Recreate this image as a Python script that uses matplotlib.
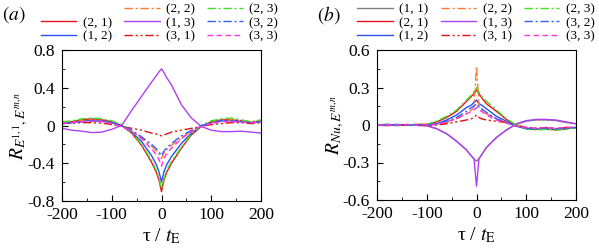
import matplotlib
matplotlib.use("Agg")
import matplotlib.pyplot as plt
from matplotlib.lines import Line2D
from matplotlib.ticker import MultipleLocator

plt.rcParams['font.family'] = ['Liberation Serif', 'DejaVu Serif']
plt.rcParams['mathtext.fontset'] = 'stix'

tau = [-200, -180, -160, -140, -120, -100, -80, -60, -40, -20, -10, -5, 0,
       5, 10, 20, 40, 60, 80, 100, 120, 140, 160, 180, 200]

labels = ['(1, 1)', '(2, 1)', '(1, 2)', '(2, 2)', '(1, 3)', '(3, 1)', '(2, 3)', '(3, 2)', '(3, 3)']

# Panel (a): R_{E11, Emn}
a_21 = [0.03, 0.04, 0.06, 0.07, 0.06, 0.04, 0.0, -0.08, -0.21, -0.39, -0.50, -0.58, -0.70,
        -0.58, -0.50, -0.40, -0.24, -0.10, -0.01, 0.04, 0.06, 0.06, 0.05, 0.03, 0.05]
a_12 = [0.02, 0.03, 0.045, 0.055, 0.05, 0.03, 0.0, -0.07, -0.17, -0.32, -0.42, -0.49, -0.60,
        -0.49, -0.42, -0.33, -0.19, -0.08, -0.01, 0.03, 0.05, 0.05, 0.04, 0.03, 0.04]
a_22 = [0.03, 0.04, 0.05, 0.06, 0.05, 0.03, 0.0, -0.06, -0.13, -0.22, -0.27, -0.30, -0.35,
        -0.29, -0.26, -0.21, -0.13, -0.06, -0.01, 0.03, 0.05, 0.06, 0.05, 0.04, 0.05]
a_13 = [-0.03, -0.05, -0.06, -0.075, -0.07, -0.04, 0.0, 0.16, 0.31, 0.46, 0.53, 0.57, 0.60,
        0.56, 0.51, 0.43, 0.22, 0.08, -0.01, -0.05, -0.065, -0.065, -0.06, -0.07, -0.08]
a_31 = [0.02, 0.025, 0.03, 0.03, 0.025, 0.01, -0.01, -0.03, -0.05, -0.08, -0.09, -0.10, -0.11,
        -0.10, -0.09, -0.07, -0.05, -0.03, -0.01, 0.01, 0.02, 0.03, 0.03, 0.02, 0.03]
a_23 = [0.04, 0.05, 0.07, 0.08, 0.07, 0.05, 0.01, -0.07, -0.20, -0.37, -0.48, -0.56, -0.67,
        -0.56, -0.48, -0.38, -0.23, -0.09, 0.0, 0.05, 0.07, 0.08, 0.06, 0.04, 0.06]
a_32 = [0.02, 0.03, 0.04, 0.05, 0.045, 0.03, 0.0, -0.05, -0.12, -0.20, -0.25, -0.28, -0.32,
        -0.27, -0.24, -0.19, -0.11, -0.05, 0.0, 0.03, 0.05, 0.05, 0.04, 0.03, 0.04]
a_33 = [0.02, 0.03, 0.04, 0.045, 0.04, 0.02, -0.01, -0.06, -0.14, -0.25, -0.31, -0.36, -0.43,
        -0.35, -0.30, -0.24, -0.14, -0.06, -0.01, 0.02, 0.04, 0.04, 0.035, 0.03, 0.04]

# Panel (b): R_{Nu, Emn}
b_11 = [0.0, 0.005, 0.0, 0.003, -0.003, -0.005, -0.03, -0.07, -0.13, -0.20, -0.25, -0.27, -0.29,
        -0.27, -0.24, -0.18, -0.10, -0.04, 0.005, 0.03, 0.04, 0.04, 0.035, 0.02, 0.01]
b_21 = [0.0, -0.005, 0.0, 0.0, 0.005, 0.005, 0.025, 0.06, 0.11, 0.19, 0.23, 0.25, 0.28,
        0.25, 0.22, 0.17, 0.11, 0.045, -0.005, -0.03, -0.035, -0.03, -0.04, -0.03, -0.02]
b_12 = [0.0, 0.0, -0.005, 0.0, 0.0, 0.0, 0.01, 0.04, 0.08, 0.14, 0.16, 0.18, 0.20,
        0.17, 0.16, 0.13, 0.07, 0.03, -0.01, -0.03, -0.035, -0.03, -0.035, -0.03, -0.02]
b_22 = [0.0, 0.0, 0.0, -0.005, 0.0, 0.0, 0.005, 0.02, 0.05, 0.09, 0.12, 0.15, 0.47,
        0.15, 0.12, 0.09, 0.05, 0.02, -0.01, -0.02, -0.03, -0.025, -0.03, -0.02, -0.02]
b_13 = [0.0, 0.005, 0.0, 0.003, -0.003, -0.005, -0.03, -0.07, -0.13, -0.20, -0.25, -0.27, -0.49,
        -0.27, -0.24, -0.18, -0.10, -0.04, 0.01, 0.035, 0.045, 0.045, 0.04, 0.025, 0.01]
b_31 = [0.0, 0.0, 0.0, 0.0, 0.0, -0.005, 0.0, 0.01, 0.025, 0.04, 0.05, 0.06, 0.08,
        0.06, 0.05, 0.04, 0.03, 0.02, 0.0, -0.02, -0.025, -0.02, -0.03, -0.02, -0.02]
b_23 = [0.0, 0.005, 0.0, 0.0, 0.005, 0.005, 0.03, 0.07, 0.12, 0.20, 0.24, 0.27, 0.30,
        0.26, 0.23, 0.19, 0.12, 0.05, 0.0, -0.03, -0.04, -0.035, -0.04, -0.035, -0.02]
b_32 = [0.0, 0.0, 0.005, 0.0, 0.0, 0.0, 0.01, 0.03, 0.06, 0.11, 0.14, 0.15, 0.17,
        0.14, 0.13, 0.10, 0.05, 0.02, -0.01, -0.025, -0.03, -0.025, -0.03, -0.025, -0.02]
b_33 = [0.0, 0.0, 0.0, 0.005, 0.0, 0.0, 0.005, 0.025, 0.05, 0.09, 0.11, 0.12, 0.14,
        0.12, 0.11, 0.08, 0.04, 0.015, -0.01, -0.02, -0.025, -0.02, -0.025, -0.02, -0.015]

styles = {
    '(1, 1)': dict(color='#808080', ls='-'),
    '(2, 1)': dict(color='#e8101a', ls='-'),
    '(1, 2)': dict(color='#2a50f0', ls='-'),
    '(2, 2)': dict(color='#ff7a30', ls=(0, (6, 2, 1.5, 2))),
    '(1, 3)': dict(color='#b040f0', ls='-'),
    '(3, 1)': dict(color='#e01010', ls=(0, (6, 2, 1.5, 2, 1.5, 2))),
    '(2, 3)': dict(color='#40e020', ls=(0, (6, 2, 1.5, 2))),
    '(3, 2)': dict(color='#3060ff', ls=(0, (6, 2, 1.5, 2))),
    '(3, 3)': dict(color='#ff30d8', ls=(0, (4, 2.5))),
}

fig = plt.figure(figsize=(5.99, 2.52), dpi=100)
ax1 = fig.add_axes([62/599, 51/252, 199/599, 151/252])
ax2 = fig.add_axes([377/599, 52/252, 199/599, 150/252])

dataA = {'(2, 1)': a_21, '(1, 2)': a_12, '(2, 2)': a_22, '(1, 3)': a_13,
         '(3, 1)': a_31, '(2, 3)': a_23, '(3, 2)': a_32, '(3, 3)': a_33}
dataB = {'(1, 1)': b_11, '(2, 1)': b_21, '(1, 2)': b_12, '(2, 2)': b_22, '(1, 3)': b_13,
         '(3, 1)': b_31, '(2, 3)': b_23, '(3, 2)': b_32, '(3, 3)': b_33}

handlesA, handlesB = {}, {}
for lab in labels:
    if lab in dataA:
        handlesA[lab], = ax1.plot(tau, dataA[lab], lw=1.0, label=lab, **styles[lab])
    handlesB[lab], = ax2.plot(tau, dataB[lab], lw=1.0, label=lab, **styles[lab])

for ax in (ax1, ax2):
    ax.set_xlim(-200, 200)
    ax.xaxis.set_minor_locator(MultipleLocator(50))
    ax.tick_params(which='both', direction='in', labelsize=12.5, top=False, right=False)
    ax.tick_params(which='major', length=4)
    ax.tick_params(which='minor', length=2.5)
    ax.tick_params(axis='x', which='major', pad=4.5)
    ax.tick_params(axis='y', which='major', pad=5)
    ax.set_xlabel(r'τ / $t_{\mathrm{E}}$', fontsize=14, labelpad=2)
    ax.set_xticks([-200, -100, 0, 100, 200])
    ax.set_xticklabels(['-200', '-100', '0', '100', '200'])
    for s in ax.spines.values():
        s.set_linewidth(0.8)

ax1.set_ylim(-0.8, 0.8)
ax1.set_yticks([-0.8, -0.4, 0, 0.4, 0.8])
ax1.yaxis.set_minor_locator(MultipleLocator(0.2))
ax1.set_yticklabels(['-0.8', '-0.4', '0', '0.4', '0.8'])
ax1.set_ylabel(r'$R_{E^{1,1},E^{m,n}}$', fontsize=14, labelpad=-2)

ax2.set_ylim(-0.6, 0.6)
ax2.set_yticks([-0.6, -0.3, 0, 0.3, 0.6])
ax2.yaxis.set_minor_locator(MultipleLocator(0.15))
ax2.set_yticklabels(['-0.6', '-0.3', '0', '0.3', '0.6'])
ax2.set_ylabel(r'$R_{Nu,E^{m,n}}$', fontsize=14, labelpad=-2)

blank = Line2D([], [], color='none')
orderA = [blank] + [handlesA[l] for l in labels[1:]]
labA = [''] + labels[1:]
orderB = [handlesB[l] for l in labels]

leg_kw = dict(loc='center', ncol=3, frameon=False, fontsize=9.5, handlelength=2.7,
              handletextpad=0.5, columnspacing=0.9, labelspacing=0.1, borderpad=0)
fig.legend(orderA, labA, bbox_to_anchor=(159.5/599, 1 - 23/252), **leg_kw)
fig.legend(orderB, labels, bbox_to_anchor=(476/599, 1 - 23/252), **leg_kw)

fig.text(2/599, 1 - 15/252, r'$(a)$', fontsize=14, va='center', ha='left')
fig.text(317/599, 1 - 15/252, r'$(b)$', fontsize=14, va='center', ha='left')

fig.savefig('out.png', dpi=100)
